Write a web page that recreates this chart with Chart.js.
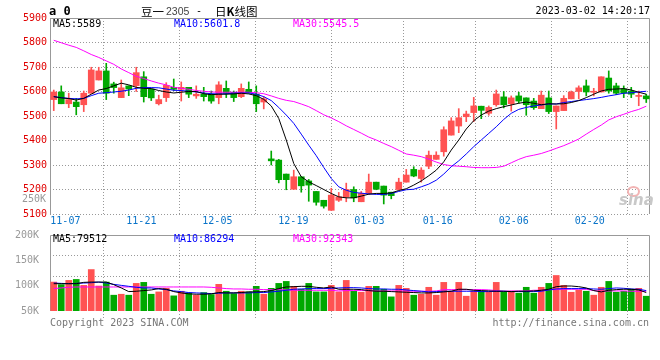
<!DOCTYPE html>
<html>
<head>
<meta charset="utf-8">
<script src="https://cdn.jsdelivr.net/npm/chart.js@4.4.0/dist/chart.umd.min.js"></script>
<style>
  body { margin: 0; background: #fff; }
  #box { position: relative; width: 660px; height: 360px; overflow: hidden;
         font-family: 'DejaVu Sans Mono', monospace; font-size: 10px; line-height: 10px; color: #000; }
  #box canvas { position: absolute; left: 0; }
  .t { position: absolute; white-space: pre; }
  .cjk { font-family: 'Noto Sans CJK SC', sans-serif; font-size: 11.5px; line-height: 12px; }
</style>
</head>
<body>
<div id="box">
  <canvas id="kline" width="660" height="232" style="top:0"></canvas>
  <canvas id="vol" width="660" height="100" style="top:226px"></canvas>

  <div class="t" style="left:49px;top:5px;font-weight:bold;font-size:12px;line-height:12px">a 0</div>
  <div class="t cjk" style="left:141px;top:5px">豆一</div>
  <div class="t" style="left:166px;top:6px;font-family:'Liberation Sans';font-size:10.5px;color:#444">2305</div>
  <div class="t" style="left:196px;top:6px">-</div>
  <div class="t cjk" style="left:215px;top:5px">日<b>K</b>线图</div>
  <div class="t" style="right:10px;top:6px">2023-03-02 14:20:17</div>

  <div class="t" style="left:22px;top:194px;color:#999">250K</div>

  <div class="t" style="left:50px;top:318px;color:#777">Copyright 2023 SINA.COM</div>
  <div class="t" style="right:11px;top:318px;color:#777">http://finance.sina.com.cn</div>

  <div style="position:absolute;left:627px;top:186px;width:9px;height:7px;border:2px solid #f2b4b4;border-radius:50%"></div>
  <div class="t" style="left:619px;top:193px;font:italic bold 15px 'DejaVu Sans';line-height:15px;color:#c8c8c8">sina</div>
</div>

<script>
// trading days, 2022-11-03 .. 2023-03-02
const dates = [
  '11-03','11-04','11-07','11-08','11-09','11-10','11-11','11-14','11-15','11-16',
  '11-17','11-18','11-21','11-22','11-23','11-24','11-25','11-28','11-29','11-30',
  '12-01','12-02','12-05','12-06','12-07','12-08','12-09','12-12','12-13','12-14',
  '12-15','12-16','12-19','12-20','12-21','12-22','12-23','12-26','12-27','12-28',
  '12-29','12-30','01-03','01-04','01-05','01-06','01-09','01-10','01-11','01-12',
  '01-13','01-16','01-17','01-18','01-19','01-20','01-30','01-31','02-01','02-02',
  '02-03','02-06','02-07','02-08','02-09','02-10','02-13','02-14','02-15','02-16',
  '02-17','02-20','02-21','02-22','02-23','02-24','02-27','02-28','03-01','03-02'
];

const open = [
  5567,5598,5550,5557,5546,5593,5647,5684,5631,5575,
  5623,5624,5660,5610,5550,5575,5617,5609,5617,5582,
  5589,5589,5575,5613,5597,5579,5609,5589,5557,5325,
  5320,5263,5201,5252,5235,5192,5156,5115,5156,5170,
  5200,5150,5184,5230,5214,5189,5200,5230,5282,5245,
  5295,5323,5354,5422,5459,5497,5514,5540,5511,5546,
  5578,5550,5582,5574,5561,5530,5574,5518,5522,5570,
  5600,5623,5597,5598,5655,5623,5610,5602,5580,5582
];
const high = [
  5606,5623,5593,5572,5602,5699,5699,5715,5638,5647,
  5623,5699,5681,5610,5585,5636,5651,5639,5617,5623,
  5617,5602,5640,5643,5602,5631,5639,5623,5579,5357,
  5323,5263,5279,5252,5241,5192,5156,5205,5188,5226,
  5211,5192,5263,5230,5214,5189,5246,5282,5293,5289,
  5357,5354,5456,5493,5530,5520,5576,5540,5541,5606,
  5600,5582,5597,5574,5572,5602,5602,5541,5583,5602,
  5623,5647,5613,5660,5684,5634,5623,5617,5602,5589
];
const low = [
  5522,5550,5534,5505,5518,5593,5647,5567,5593,5575,
  5583,5600,5557,5563,5545,5559,5604,5561,5575,5572,
  5561,5552,5550,5575,5559,5575,5593,5518,5529,5300,
  5227,5199,5201,5189,5152,5136,5124,5115,5151,5150,
  5150,5150,5180,5199,5141,5162,5200,5230,5252,5230,
  5285,5323,5336,5422,5432,5477,5477,5489,5503,5540,
  5533,5520,5552,5503,5527,5530,5510,5447,5522,5570,
  5570,5582,5582,5598,5593,5587,5575,5575,5542,5555
];
const close = [
  5598,5550,5567,5538,5593,5688,5684,5593,5616,5615,
  5610,5677,5579,5574,5567,5625,5609,5617,5589,5589,
  5579,5561,5627,5593,5575,5613,5595,5550,5570,5317,
  5240,5240,5252,5215,5218,5148,5132,5177,5170,5200,
  5166,5184,5230,5201,5177,5175,5230,5259,5255,5279,
  5340,5340,5444,5480,5493,5508,5541,5523,5535,5590,
  5546,5574,5561,5546,5534,5585,5518,5541,5572,5598,
  5615,5598,5601,5660,5602,5593,5593,5589,5583,5570
];

// moving averages as drawn on the price panel
const ma5 = [
  5579,5574,5571,5565,5572,5589,5606,5612,5623,5634,
  5627,5617,5613,5612,5604,5598,5594,5597,5600,5600,
  5591,5587,5589,5589,5590,5593,5590,5583,5568,5541,
  5490,5402,5306,5252,5231,5216,5200,5184,5170,5166,
  5166,5173,5181,5184,5184,5186,5196,5203,5218,5235,
  5256,5279,5313,5361,5402,5447,5481,5504,5520,5530,
  5538,5545,5552,5557,5552,5546,5550,5549,5550,5555,
  5563,5575,5589,5602,5609,5610,5612,5606,5597,5589
];
const ma10 = [
  5579,5575,5572,5570,5572,5583,5593,5595,5598,5601,
  5606,5613,5616,5616,5615,5610,5605,5604,5601,5598,
  5594,5591,5590,5591,5593,5594,5594,5589,5579,5563,
  5535,5504,5470,5426,5381,5338,5290,5245,5211,5197,
  5188,5185,5182,5180,5180,5184,5192,5199,5201,5211,
  5222,5238,5263,5293,5317,5345,5375,5402,5429,5456,
  5486,5511,5527,5535,5541,5545,5549,5549,5555,5559,
  5563,5567,5571,5576,5582,5587,5593,5595,5598,5601
];
const ma30 = [
  5809,5799,5789,5780,5766,5751,5739,5725,5711,5692,
  5677,5662,5653,5643,5634,5627,5617,5613,5609,5604,
  5601,5598,5597,5597,5597,5597,5597,5595,5591,5582,
  5572,5564,5559,5549,5538,5522,5505,5492,5477,5460,
  5445,5430,5414,5402,5388,5375,5360,5345,5340,5334,
  5324,5312,5302,5297,5295,5293,5290,5289,5289,5290,
  5295,5309,5323,5334,5340,5347,5357,5368,5379,5392,
  5406,5426,5445,5463,5484,5497,5507,5518,5527,5540
];

// volume panel
const volume = [
  107100,102000,110400,112300,100600,131800,99300,107100,81200,83100,
  81200,104500,106500,83100,87700,94800,79900,89000,85700,81200,
  86400,82500,102600,89000,84400,89000,87700,98700,83100,94800,
  104500,108400,98700,92900,104500,87700,87700,100600,87700,110400,
  89000,87000,98700,98700,92900,77900,100600,94800,81200,83100,
  96800,81200,106500,89000,106500,79200,89000,89000,87000,106500,
  87000,89000,85100,96800,85100,96800,104500,120100,100600,87000,
  90900,89000,81200,96800,108400,87000,89000,92900,94800,79200
];
const vma5 = [
  103900,103900,103900,103900,106500,107100,107100,107100,102000,95500,
  88300,89000,90300,91600,94200,92900,88300,85700,83800,83100,
  83100,83800,86400,85700,85700,86400,87700,87700,88300,90300,
  94200,97400,98000,98700,98700,96800,95500,97400,92900,92900,
  92900,92200,90300,89000,89000,88300,87700,87000,86400,85700,
  85700,86400,87700,89000,92900,92900,90900,90300,89600,89000,
  89000,88300,89000,89000,89600,90900,92900,98000,99300,99300,
  98000,95500,90300,87700,90900,92200,92900,92900,91600,86400
];
const vma10 = [
  105200,104500,103900,104500,105200,105800,107100,105200,102600,100600,
  98700,96800,95500,95500,93500,92200,89600,88300,86400,85700,
  85100,84400,85100,85700,85700,85700,85700,86400,86400,87700,
  89000,90900,92900,93500,94200,94200,94200,94800,95500,96100,
  96100,95500,94200,93500,93500,92900,92900,91600,90300,89000,
  87700,88300,89000,89000,89000,89000,89000,88300,88300,89000,
  89000,88300,88300,88300,88300,89000,91600,93500,94200,94200,
  94200,94200,93500,92900,94200,95500,94800,93500,92900,90300
];
const vma30 = [
  94200,95500,96800,97400,97400,97400,97400,97400,97400,97400,
  97400,97400,97400,97400,97400,97400,97400,97400,97400,97400,
  97400,96800,95500,94200,93500,93500,92900,92900,92200,92200,
  92200,91600,90900,90900,90900,90900,90900,90900,89600,90300,
  90300,90300,90300,89600,89600,89600,89600,89600,89000,89000,
  89000,89600,92200,92200,92200,92200,92200,92200,91600,90300,
  89000,89600,89600,89600,90900,90900,92200,92200,92900,92900,
  92900,92900,90300,89000,89600,89600,89600,89000,89000,89000
];

const tickDates = ['11-07','11-21','12-05','12-19','01-03','01-16','02-06','02-20'];
const volTicks = [50000, 100000, 150000, 200000];
const legendPrice = [['MA5:5589', '#000'], ['MA10:5601.8', '#0000ff'], ['MA30:5545.5', '#ff00ff']];
const legendVol = [['MA5:79512', '#000'], ['MA10:86294', '#0000ff'], ['MA30:92343', '#ff00ff']];

const RED = '#ff5252', GREEN = '#00a800', GRID = '#999';
const MONO = { family: "'DejaVu Sans Mono', monospace", size: 10 };

const candleColor = dates.map((d, i) => close[i] >= open[i] ? RED : GREEN);
const xy = arr => arr.map((v, i) => ({ x: i, y: v }));

// sina's date grid runs a touch wider than the candle step
const gridStep = 7.6 / 7.5;
const gridPos = d => 1.55 + (dates.indexOf(d) - 2) * gridStep;
const dateTicks = scale => { scale.ticks = tickDates.map(d => ({ value: gridPos(d) })); };

// solid frame on left, top and right of the plot
const frame = {
  id: 'frame',
  beforeDatasetsDraw(chart) {
    const a = chart.chartArea, ctx = chart.ctx;
    const l = Math.round(a.left) + 0.5, r = Math.round(a.right) - 0.5;
    const t = Math.round(a.top) + 0.5, b = Math.round(a.bottom);
    ctx.save();
    ctx.strokeStyle = GRID;
    ctx.lineWidth = 1;
    ctx.beginPath();
    ctx.moveTo(l, b); ctx.lineTo(l, t); ctx.lineTo(r, t); ctx.lineTo(r, b);
    ctx.stroke();
    ctx.restore();
  }
};

const maLine = (arr, color) => ({
  type: 'line', data: xy(arr), borderColor: color, borderWidth: 1,
  pointRadius: 0, tension: 0, order: 0
});

const common = {
  responsive: false, animation: false, devicePixelRatio: 1, events: [],
  plugins: { legend: { display: false }, tooltip: { enabled: false } }
};

const dateAxis = extra => Object.assign({
  type: 'linear', min: -0.5, max: 79.5, offset: false,
  afterBuildTicks: dateTicks,
  border: { display: false, dash: [1, 2] }
}, extra);

new Chart(document.getElementById('kline'), {
  data: {
    datasets: [
      maLine(ma5, '#000'),
      maLine(ma10, '#0000ff'),
      maLine(ma30, '#ff00ff'),
      { type: 'bar', data: dates.map((d, i) => ({ x: i, y: [open[i], close[i]] })),
        backgroundColor: candleColor, barThickness: 6, minBarLength: 1, grouped: false, order: 1 },
      { type: 'bar', data: dates.map((d, i) => ({ x: i, y: [low[i], high[i]] })),
        backgroundColor: candleColor, barThickness: 1, grouped: false, order: 2 }
    ]
  },
  options: {
    ...common,
    layout: { padding: { top: 18, right: 10, left: 0, bottom: 0 } },
    scales: {
      x: dateAxis({
        afterFit: s => { s.height = 18; },
        ticks: { callback: (v, i) => tickDates[i], color: '#0a74c9', font: MONO,
                 padding: 1, autoSkip: false, maxRotation: 0 },
        grid: { color: GRID, drawTicks: false }
      }),
      y: {
        min: 5100, max: 5900,
        afterFit: s => { s.width = 50; },
        ticks: { stepSize: 100, callback: v => String(v), color: '#e00000', font: MONO, padding: 3 },
        grid: { color: GRID, drawTicks: false },
        border: { display: false, dash: [1, 2] }
      }
    }
  },
  plugins: [frame]
});

new Chart(document.getElementById('vol'), {
  data: {
    datasets: [
      maLine(vma5, '#000'),
      maLine(vma10, '#0000ff'),
      maLine(vma30, '#ff00ff'),
      { type: 'bar', data: xy(volume), backgroundColor: candleColor,
        barThickness: 6, grouped: false, order: 1 }
    ]
  },
  options: {
    ...common,
    layout: { padding: { top: 8, right: 10, left: 0, bottom: 0 } },
    scales: {
      x: dateAxis({
        afterFit: s => { s.height = 15; },
        ticks: { display: false },
        grid: { color: GRID, drawTicks: true, tickLength: 9, tickColor: GRID, tickBorderDash: [1, 2] }
      }),
      y: {
        min: 50000, max: 200000,
        afterBuildTicks: s => { s.ticks = volTicks.map(v => ({ value: v })); },
        afterFit: s => { s.width = 50; },
        ticks: { callback: v => (v / 1000) + 'K', color: GRID, font: MONO, padding: 3 },
        grid: { display: false },
        border: { display: false }
      },
      // the dotted rows of the volume panel
      yg: {
        position: 'left', min: 0, max: 77 / 21, reverse: true,
        afterBuildTicks: s => { s.ticks = [{ value: 1 }, { value: 2 }]; },
        afterFit: s => { s.width = 0; },
        ticks: { display: false },
        grid: { color: GRID, drawTicks: false },
        border: { display: false, dash: [1, 2] }
      }
    }
  },
  plugins: [frame]
});

// legends above each panel
const box = document.getElementById('box');
const legendX = [53, 174, 293];
function addLegend(items, top) {
  items.forEach(([text, color], i) => {
    const el = document.createElement('div');
    el.className = 't';
    el.style.left = legendX[i] + 'px';
    el.style.top = top + 'px';
    el.style.color = color;
    el.textContent = text;
    box.appendChild(el);
  });
}
addLegend(legendPrice, 19);
addLegend(legendVol, 234);
</script>
</body>
</html>
